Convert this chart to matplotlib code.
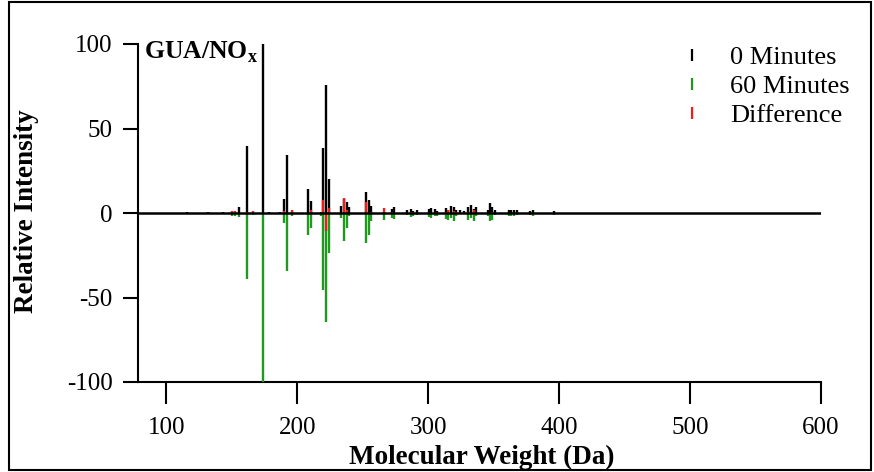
import matplotlib
matplotlib.use("Agg")
import matplotlib.pyplot as plt
from matplotlib.lines import Line2D
from matplotlib.patches import Rectangle
import numpy as np

plt.rcParams["font.family"] = ["Liberation Serif", "DejaVu Serif"]
plt.rcParams["mathtext.fontset"] = "custom"
plt.rcParams["mathtext.rm"] = "Liberation Serif"
plt.rcParams["mathtext.bf"] = "Liberation Serif:bold"

# Stick spectrum: molecular weight (Da) and relative intensities
mw = [115.4, 131.9, 143.4, 149.7, 152.4, 155.6, 161.8, 166.3, 173.5, 178.3,
      186.7, 189.7, 191.9, 196.1, 208.1, 210.1, 218.4, 219.7, 222.1, 224.4,
      233.6, 235.6, 237.6, 239.6, 252.4, 254.5, 256.4, 266.4, 272.1, 273.8,
      284.1, 286.6, 288.6, 291.2, 300.3, 302.3, 304.8, 306.8, 313.4, 315.4,
      317.4, 319.5, 321.5, 324.5, 327.5, 330.6, 332.6, 334.6, 336.6, 345.7,
      347.2, 348.7, 351.3, 361.4, 363.4, 365.4, 367.4, 378.0, 380.1, 395.7]
int_0min = [0.5, 0.5, 0.6, 0.3, 0.3, 3.5, 39.5, 0.2, 100.0, 0.6,
            0.6, 8.5, 34.5, 0.3, 14.0, 7.0, 0.5, 38.7, 75.5, 20.3,
            4.0, 8.0, 6.3, 3.5, 12.6, 7.4, 4.0, 0.5, 2.5, 3.4,
            1.5, 2.2, 1.2, 2.0, 2.4, 3.0, 2.2, 1.0, 3.0, 2.0,
            4.2, 3.5, 1.5, 1.5, 1.2, 3.5, 4.5, 2.5, 3.5, 2.0,
            5.8, 3.5, 2.0, 1.5, 2.0, 2.0, 1.5, 1.2, 1.5, 1.3]
int_60min = [0.0, 0.0, 0.0, 2.0, 1.5, 2.4, 38.8, 1.2, 100.0, 0.3,
             0.3, 6.0, 34.3, 2.0, 13.0, 9.0, 2.0, 45.7, 64.5, 23.5,
             3.0, 16.5, 9.0, 2.0, 18.0, 13.0, 4.5, 4.0, 3.0, 3.3,
             1.0, 2.5, 2.0, 1.0, 2.5, 3.0, 1.5, 2.0, 3.5, 4.0,
             3.0, 5.0, 2.0, 0.5, 0.5, 4.0, 3.0, 4.5, 2.0, 2.0,
             4.5, 4.0, 1.0, 1.5, 1.5, 2.0, 1.0, 1.0, 1.5, 1.0]
int_diff = [0.0, 0.0, 0.0, 1.2, 1.0, 0.0, 0.7, 1.0, 0.0, 0.0,
            0.0, 1.0, 0.0, 1.5, 0.0, 2.0, 0.0, 7.5, -10.5, 3.2,
            0.0, 8.8, 2.0, 0.0, 6.3, 0.0, 0.5, 3.0, 0.5, 0.0,
            0.0, 0.3, 0.8, 0.0, 0.0, 0.0, 0.0, 0.8, 0.5, 1.5,
            0.0, 1.2, 0.4, 0.0, 0.0, 0.5, 0.0, 1.5, 0.0, 0.0,
            0.0, 0.5, 0.0, 0.0, 0.0, 0.0, 0.0, 0.0, 0.0, 0.0]

x_ticks = [100, 200, 300, 400, 500, 600]
y_ticks = [-100, -50, 0, 50, 100]

BLACK = "#000000"
GREEN = "#1f9a1f"
RED = "#ee1c1c"

fig = plt.figure(figsize=(8.74, 4.72), dpi=100)
W, H = 874, 472
ax = fig.add_axes([137.7 / W, 1 - 382 / H, (821 - 137.7) / W, (382 - 44) / H])

mw_arr = np.array(mw)
ax.vlines(mw_arr, 0, np.array(int_0min), color=BLACK, lw=1.7, zorder=3)
ax.vlines(mw_arr, 0, -np.array(int_60min), color=GREEN, lw=1.7, zorder=3)
ax.vlines(mw_arr, 0, np.array(int_diff), color=RED, lw=1.7, zorder=4)
ax.axhline(0, color=BLACK, lw=1.8, zorder=5)

ax.set_xlim(78, 600)
ax.set_ylim(-100, 100)
ax.set_xticks(x_ticks)
ax.set_yticks(y_ticks)
ax.set_yticklabels([str(v) for v in y_ticks])

for side in ("top", "right"):
    ax.spines[side].set_visible(False)
for side in ("left", "bottom"):
    ax.spines[side].set_linewidth(1.5)
ax.tick_params(axis="x", direction="out", length=16, width=1.5,
               labelsize=18, pad=9)
ax.tick_params(axis="y", direction="out", length=11, width=1.5,
               labelsize=18, pad=7)

fig.text(26.7 / W, 1 - 211 / H, "Relative Intensity", rotation=90,
         ha="center", va="center", fontsize=19.5, fontweight="bold")
fig.text(482 / W, 1 - 457 / H, "Molecular Weight (Da)",
         ha="center", va="center", fontsize=19.5, fontweight="bold")
fig.text(144 / W, 1 - 58.3 / H, r"GUA/NO$_{\mathbf{x}}$",
         ha="left", va="baseline", fontsize=18.5, fontweight="bold")

handles = [
    Line2D([], [], color=BLACK, marker="|", ls="none", ms=9, mew=1.6),
    Line2D([], [], color=GREEN, marker="|", ls="none", ms=9, mew=1.6),
    Line2D([], [], color=RED, marker="|", ls="none", ms=9, mew=1.6),
]
ax.legend(handles, ["0 Minutes", "60 Minutes", "Difference"],
          loc="upper left", bbox_to_anchor=(679 / W, 1 - 45.5 / H),
          bbox_transform=fig.transFigure, frameon=False, fontsize=19,
          handlelength=1.0, handletextpad=0.95, borderpad=0,
          borderaxespad=0, labelspacing=0.21)

fig.add_artist(Rectangle((9 / W, 2 / H), (871 - 9) / W, (470 - 2) / H,
                         transform=fig.transFigure, fill=False,
                         edgecolor=BLACK, lw=1.5))

fig.savefig("out.png", dpi=100)
